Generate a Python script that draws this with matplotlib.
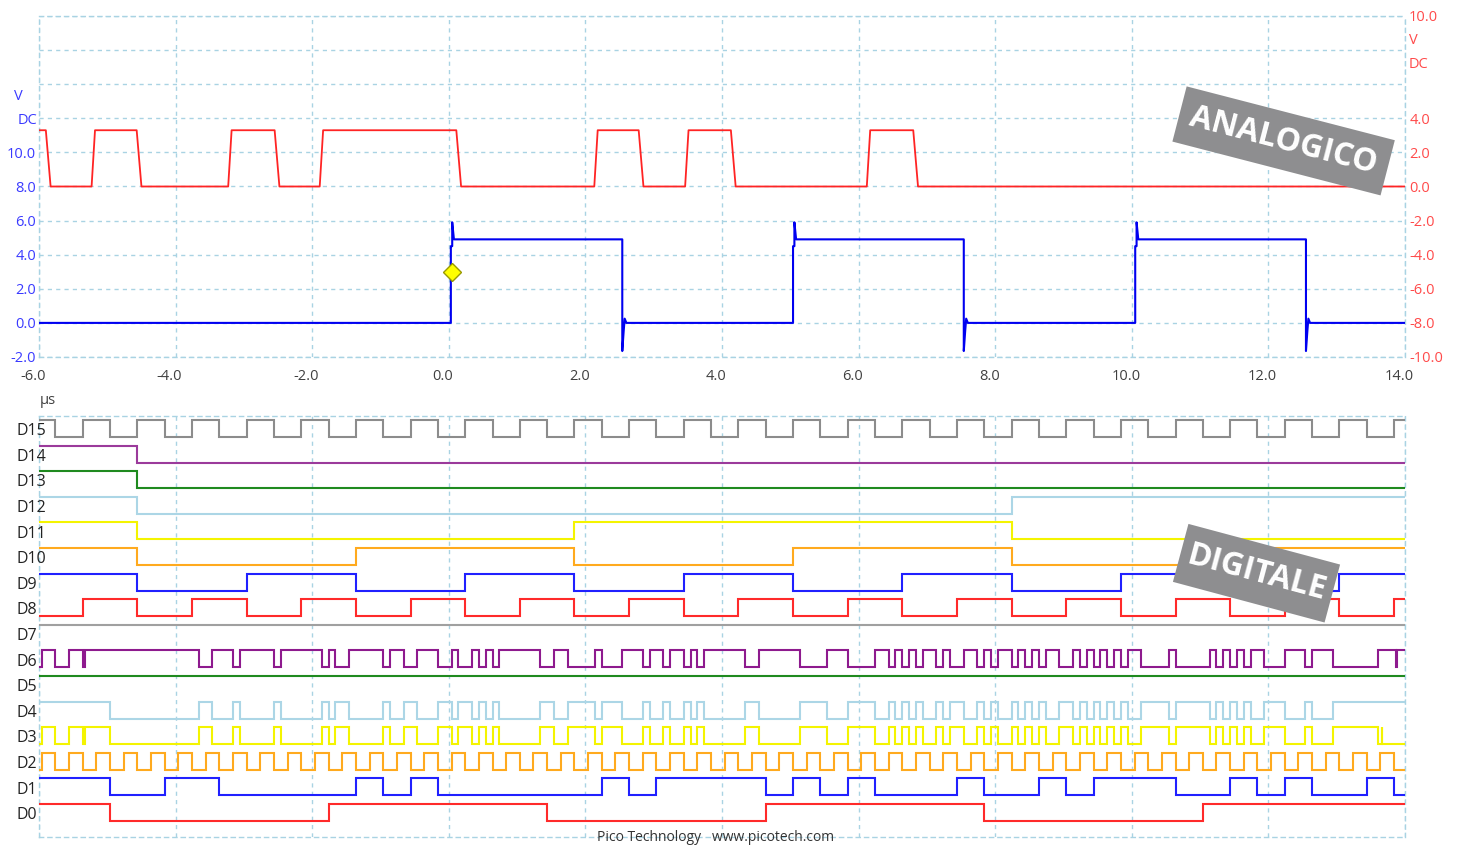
import matplotlib.pyplot as plt
from matplotlib import transforms
from matplotlib.patches import Rectangle

plt.rcParams['font.family'] = ['Open Sans', 'DejaVu Sans']

# ---- analog data (times in us) ----
time_ticks = [-6, -4, -2, 0, 2, 4, 6, 8, 10, 12, 14]

# channel B (red, right axis, volts)
red_high = 3.3
red_low = 0.0
red_falls = [-5.90, -4.57, -2.55, 0.11, 2.78, 4.13, 6.80]
red_rises = [-5.23, -3.23, -1.89, 2.13, 3.46, 6.12]

# channel A (blue, left axis, volts)
blue_high = 4.9
blue_low = 0.0
blue_overshoot = 5.9
blue_undershoot = -1.65
blue_rises = [0.03, 5.04, 10.05]
blue_falls = [2.54, 7.54, 12.55]

trigger_t = 0.04
trigger_v = 3.0

# ---- digital data: initial level + toggle times (us) ----
channels = ['D15', 'D14', 'D13', 'D12', 'D11', 'D10', 'D9', 'D8',
            'D7', 'D6', 'D5', 'D4', 'D3', 'D2', 'D1', 'D0']
colors = ['#8c8c8c', '#9b3a9b', '#1f8a1f', '#acd6e6', '#f4f400', '#ffaa1e', '#2020ff', '#ff2a2a',
          '#a0a0a0', '#8e1a8e', '#1f8a1f', '#acd6e6', '#f4f400', '#ffaa1e', '#2020ff', '#ff2a2a']

d15_init = 1
d15_edges = [-5.76, -5.36, -4.96, -4.56, -4.16, -3.76, -3.36, -2.96, -2.56, -2.16,
             -1.76, -1.36, -0.96, -0.56, -0.16, 0.24, 0.64, 1.04, 1.44, 1.84,
             2.24, 2.64, 3.04, 3.44, 3.84, 4.24, 4.64, 5.04, 5.44, 5.84,
             6.24, 6.64, 7.04, 7.44, 7.84, 8.24, 8.64, 9.04, 9.44, 9.84,
             10.24, 10.64, 11.04, 11.44, 11.84, 12.24, 12.64, 13.04, 13.44, 13.84]
d14_init = 1
d14_edges = [-4.56]
d13_init = 1
d13_edges = [-4.56]
d12_init = 1
d12_edges = [-4.56, 8.24]
d11_init = 1
d11_edges = [-4.56, 1.84, 8.24]
d10_init = 1
d10_edges = [-4.56, -1.36, 1.84, 5.04, 8.24, 11.44]
d9_init = 1
d9_edges = [-4.56, -2.96, -1.36, 0.24, 1.84, 3.44, 5.04, 6.64, 8.24, 9.84, 11.44, 13.04]
d8_init = 0
d8_edges = [-5.36, -4.56, -3.76, -2.96, -2.16, -1.36, -0.56, 0.24, 1.04, 1.84,
            2.64, 3.44, 4.24, 5.04, 5.84, 6.64, 7.44, 8.24, 9.04, 9.84,
            10.64, 11.44, 12.24, 13.04, 13.84]
d7_init = 1
d7_edges = []

# bus pattern shared by D6 / D4 / D3
data_edges = [-3.66, -3.46, -3.16, -3.06, -2.56, -2.46, -1.86, -1.76, -1.66, -1.46,
              -0.96, -0.86, -0.66, -0.46, -0.16, 0.04, 0.14, 0.34, 0.44, 0.54,
              0.64, 0.74, 1.34, 1.54, 1.74, 2.14, 2.24, 2.54, 2.84, 2.94,
              3.14, 3.24, 3.44, 3.54, 3.64, 3.74, 4.34, 4.54, 5.14, 5.54,
              5.84, 6.24, 6.44, 6.54, 6.64, 6.74, 6.84, 6.94, 7.14, 7.24,
              7.34, 7.54, 7.74, 7.84, 7.94, 8.04, 8.24, 8.34, 8.44, 8.54,
              8.64, 8.74, 8.94, 9.14, 9.24, 9.34, 9.44, 9.54, 9.64, 9.74,
              9.84, 9.94, 10.14, 10.54, 10.64, 11.14, 11.24, 11.34, 11.44, 11.54,
              11.64, 11.74, 11.94, 12.24, 12.54, 12.64, 12.94]
d6_init = 0
d6_edges = [-5.96, -5.76, -5.56, -5.36, -5.33] + data_edges + [13.60, 13.87, 13.88]
d5_init = 1
d5_edges = []
d4_init = 1
d4_edges = [-4.96] + data_edges
d3_init = 0
d3_edges = [-5.96, -5.76, -5.56, -5.36, -5.33, -4.96] + data_edges + [13.60, 13.66, 13.67]
d2_init = 0
d2_edges = [-5.96, -5.76, -5.56, -5.36, -5.16, -4.96, -4.76, -4.56, -4.36, -4.16,
            -3.96, -3.76, -3.56, -3.36, -3.16, -2.96, -2.76, -2.56, -2.36, -2.16,
            -1.96, -1.76, -1.56, -1.36, -1.16, -0.96, -0.76, -0.56, -0.36, -0.16,
            0.04, 0.24, 0.44, 0.64, 0.84, 1.04, 1.24, 1.44, 1.64, 1.84,
            2.04, 2.24, 2.44, 2.64, 2.84, 3.04, 3.24, 3.44, 3.64, 3.84,
            4.04, 4.24, 4.44, 4.64, 4.84, 5.04, 5.24, 5.44, 5.64, 5.84,
            6.04, 6.24, 6.44, 6.64, 6.84, 7.04, 7.24, 7.44, 7.64, 7.84,
            8.04, 8.24, 8.44, 8.64, 8.84, 9.04, 9.24, 9.44, 9.64, 9.84,
            10.04, 10.24, 10.44, 10.64, 10.84, 11.04, 11.24, 11.44, 11.64, 11.84,
            12.04, 12.24, 12.44, 12.64, 12.84, 13.04, 13.24, 13.44, 13.64, 13.84]
d1_init = 1
d1_edges = [-4.96, -4.16, -3.36, -1.36, -0.96, -0.56, -0.16, 2.24, 2.64, 3.04,
            4.64, 5.04, 5.44, 5.84, 6.24, 7.44, 7.84, 8.64, 9.04, 9.44,
            10.64, 11.44, 11.84, 12.24, 12.64, 13.44, 13.84]
d0_init = 1
d0_edges = [-4.96, -1.76, 1.44, 4.64, 7.84, 11.04]

digital = [(d15_init, d15_edges), (d14_init, d14_edges), (d13_init, d13_edges),
           (d12_init, d12_edges), (d11_init, d11_edges), (d10_init, d10_edges),
           (d9_init, d9_edges), (d8_init, d8_edges), (d7_init, d7_edges),
           (d6_init, d6_edges), (d5_init, d5_edges), (d4_init, d4_edges),
           (d3_init, d3_edges), (d2_init, d2_edges), (d1_init, d1_edges),
           (d0_init, d0_edges)]


def step_trace(init, edges, row):
    hi, lo = row + 0.16, row + 0.82
    lv = init
    xs, ys = [-6.0], [hi if lv else lo]
    for t in edges:
        y0 = hi if lv else lo
        lv = 1 - lv
        y1 = hi if lv else lo
        xs += [t, t]
        ys += [y0, y1]
    xs.append(14.0)
    ys.append(hi if lv else lo)
    return xs, ys


def red_trace():
    events = sorted([(t, 0) for t in red_falls] + [(t, 1) for t in red_rises])
    xs, ys = [-6.0], [red_high]
    for t, up in events:
        if up:
            xs += [t, t + 0.05]
            ys += [red_low, red_high]
        else:
            xs += [t, t + 0.07]
            ys += [red_high, red_low]
    xs.append(14.0)
    ys.append(red_low)
    return xs, ys


def blue_trace():
    events = sorted([(t, 1) for t in blue_rises] + [(t, 0) for t in blue_falls])
    xs, ys = [-6.0], [blue_low]
    for t, up in events:
        if up:
            xs += [t, t, t + 0.02, t + 0.02, t + 0.045]
            ys += [blue_low, 4.5, 4.5, blue_overshoot, blue_high]
        else:
            xs += [t, t, t + 0.02, t + 0.035, t + 0.06]
            ys += [blue_high, blue_undershoot, -0.5, 0.25, blue_low]
    xs.append(14.0)
    ys.append(blue_low)
    return xs, ys


W, H = 1462, 847
fig = plt.figure(figsize=(W / 100, H / 100), dpi=100)
fig.patch.set_facecolor('white')

grid_color = '#a9d3e3'
dash = (0, (3, 3))
tick_size = 10.5

# ---------------- analog ----------------
ax_a = fig.add_axes([39 / W, 1 - 357 / H, 1366 / W, 341 / H])
ax_b = ax_a.twinx()
ax_a.set_xlim(-6, 14)
ax_a.set_ylim(-2, 18)
ax_b.set_ylim(-10, 10)

ax_a.set_xticks(time_ticks)
ax_a.set_xticklabels([f'{v:.1f}' for v in time_ticks], color='#404040', fontsize=tick_size)
left_ticks = list(range(-2, 20, 2))
ax_a.set_yticks(left_ticks)
ax_a.set_yticklabels([f'{v:.1f}' if v <= 10 else '' for v in left_ticks],
                     color='#3a3aff', fontsize=tick_size)
right_ticks = list(range(-10, 12, 2))
ax_b.set_yticks(right_ticks)
ax_b.set_yticklabels([f'{v:.1f}' if (v <= 4 or v == 10) else '' for v in right_ticks],
                     color='#ff4a4a', fontsize=tick_size)
ax_a.tick_params(axis='both', length=0)
ax_a.tick_params(axis='x', pad=9)
ax_a.tick_params(axis='y', pad=2)
ax_b.tick_params(axis='y', length=0, pad=3)
for lab in ax_a.get_xticklabels():
    lab.set_transform(lab.get_transform() + transforms.ScaledTranslation(-0.06, 0, fig.dpi_scale_trans))

ax_a.grid(True, color=grid_color, lw=1.0, ls=dash)
ax_a.set_axisbelow(True)
for s in ax_a.spines.values():
    s.set_color(grid_color)
    s.set_linestyle(dash)
    s.set_linewidth(1.0)
for s in ax_b.spines.values():
    s.set_visible(False)

bx, by = blue_trace()
ax_a.plot(bx, by, color='#0000f0', lw=1.5, zorder=3)
rx, ry = red_trace()
ax_b.plot(rx, ry, color='#ff2424', lw=1.3, zorder=3)
ax_a.plot([trigger_t], [trigger_v], marker='D', ms=9, color='#ffff00',
          markeredgecolor='#9a9a00', markeredgewidth=1, zorder=5)

fig.text(18 / W, 1 - 97 / H, 'V', color='#3a3aff', fontsize=tick_size, ha='center', va='center')
fig.text(37 / W, 1 - 120 / H, 'DC', color='#3a3aff', fontsize=tick_size, ha='right', va='center')
fig.text(1409 / W, 1 - 40 / H, 'V', color='#ff4a4a', fontsize=tick_size, ha='left', va='center')
fig.text(1409 / W, 1 - 64 / H, 'DC', color='#ff4a4a', fontsize=tick_size, ha='left', va='center')
fig.text(40 / W, 1 - 400 / H, 'µs', color='#404040', fontsize=tick_size, ha='left', va='center')

# ---------------- digital ----------------
row_px = 25.6
ax_d = fig.add_axes([39 / W, 1 - 837 / H, 1366 / W, 421 / H])
ax_d.set_xlim(-6, 14)
ax_d.set_ylim(421 / row_px, 0)
ax_d.set_xticks(time_ticks)
ax_d.set_xticklabels([])
ax_d.set_yticks([])
ax_d.tick_params(length=0)
ax_d.grid(True, axis='x', color=grid_color, lw=1.0, ls=dash)
ax_d.set_axisbelow(True)
for s in ax_d.spines.values():
    s.set_color(grid_color)
    s.set_linestyle(dash)
    s.set_linewidth(1.0)

lab_tr = transforms.blended_transform_factory(fig.transFigure, ax_d.transData)
for k, (name, col, (init, edges)) in enumerate(zip(channels, colors, digital)):
    xs, ys = step_trace(init, edges, k)
    ax_d.plot(xs, ys, color=col, lw=1.5, zorder=3, solid_joinstyle='miter')
    ax_d.text(16 / W, k + 0.59, name, transform=lab_tr, fontsize=11.5,
              color='#222222', ha='left', va='center')


# ---------------- labels ----------------
def badge(cx, cy, w, h, angle, text, size):
    cx_in, cy_in = cx / 100, (H - cy) / 100
    tr = transforms.Affine2D().rotate_deg_around(cx_in, cy_in, angle) + fig.dpi_scale_trans
    rect = Rectangle((cx_in - w / 200, cy_in - h / 200), w / 100, h / 100,
                     transform=tr, facecolor='#8e8e90', edgecolor='none', zorder=10)
    fig.add_artist(rect)
    fig.text(cx / W, 1 - cy / H, text, rotation=angle, rotation_mode='anchor',
             ha='center', va='center', color='white', fontsize=size,
             fontweight='bold', zorder=11)


badge(1283.6, 140.9, 215, 57, -14.5, 'ANALOGICO', 23)
badge(1256.5, 573.2, 157, 60, -15.0, 'DIGITALE', 23)

fig.text(716 / W, 1 - 837 / H, 'Pico Technology   www.picotech.com', ha='center', va='center',
         fontsize=10, color='#333333')

fig.savefig('out.png', dpi=100, facecolor='white')
